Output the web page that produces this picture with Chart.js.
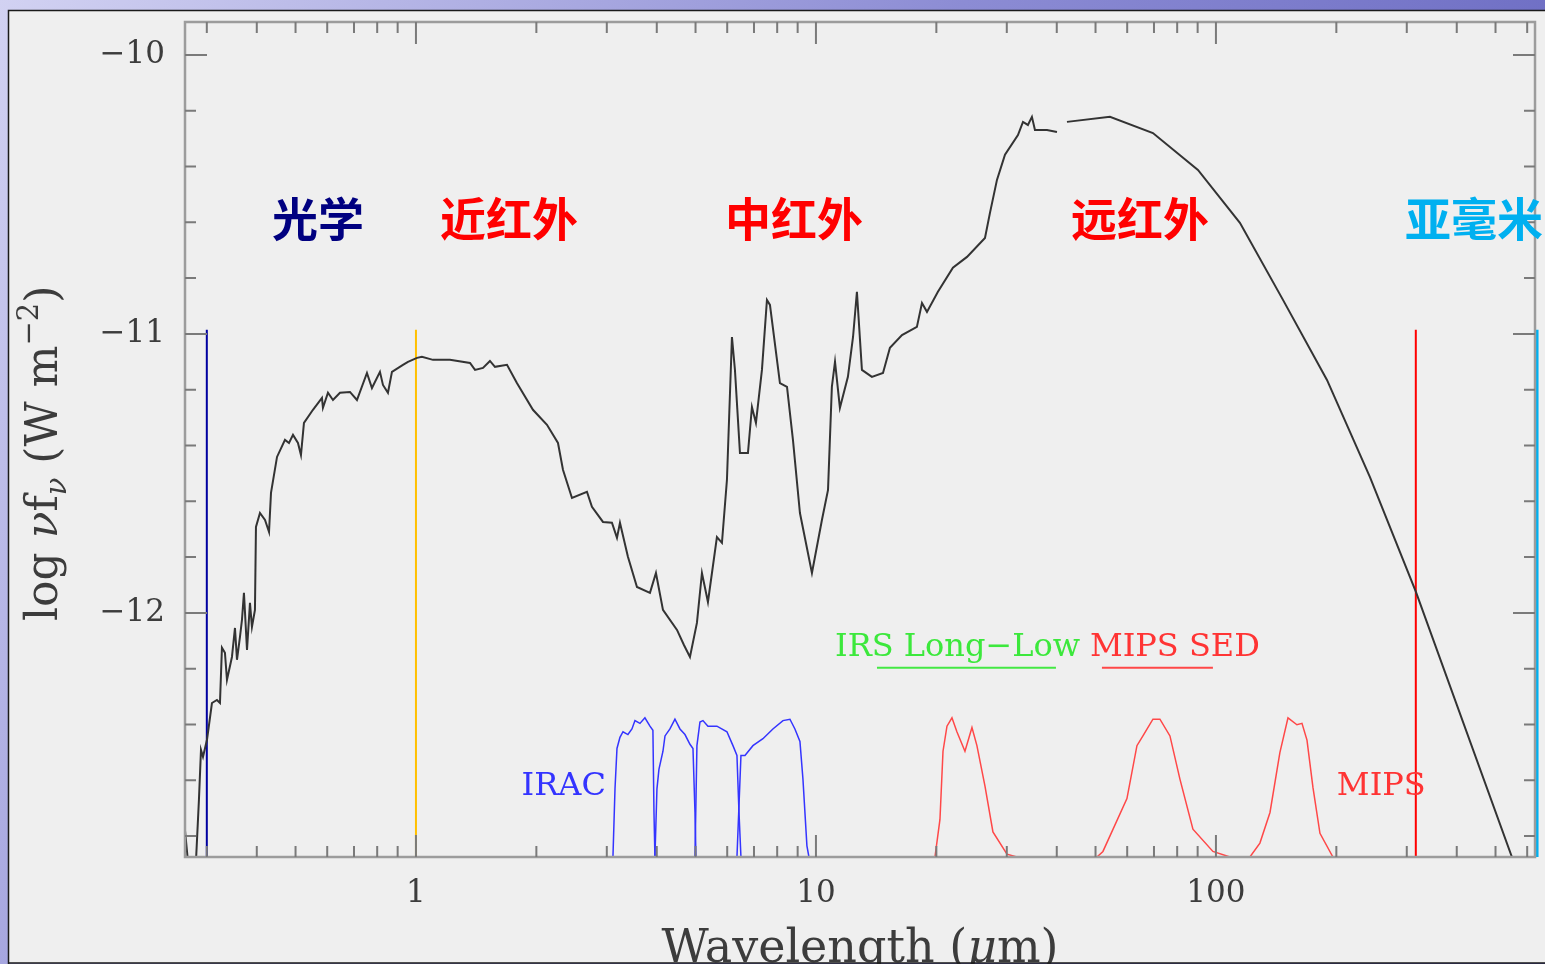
<!DOCTYPE html>
<html>
<head>
<meta charset="utf-8">
<title>SED</title>
<script src="https://cdn.jsdelivr.net/npm/chart.js@4.4.0/dist/chart.umd.min.js"></script>
<style>
html, body { margin: 0; padding: 0; overflow: hidden; background: #8080c8; }
#wrap { position: relative; width: 1545px; height: 964px; }
</style>
</head>
<body>
<div id="wrap"><canvas id="sed" width="1545" height="964"></canvas></div>
<script>
// axis ranges and ticks
const xMin = 0.2646, xMax = 627.6;
const yMin = -12.875, yMax = -9.882;
const xMajor = [1, 10, 100];
const xMinor = [0.3, 0.4, 0.5, 0.6, 0.7, 0.8, 0.9, 2, 3, 4, 5, 6, 7, 8, 9,
                20, 30, 40, 50, 60, 70, 80, 90, 200, 300, 400, 500, 600];
const yMajor = [-12, -11, -10];
const yMinor = [-12.8, -12.6, -12.4, -12.2, -11.8, -11.6, -11.4, -11.2, -10.8, -10.6, -10.4, -10.2];

// SED: wavelength (um) and log nu f_nu (W m^-2)
const sedWave = [
  0.2645, 0.2692, 0.2818, 0.2867, 0.2901, 0.2935, 0.3003, 0.309, 0.318, 0.3236,
  0.3273, 0.333, 0.3369, 0.3467, 0.3528, 0.3569, 0.3631, 0.3673, 0.3715, 0.3781,
  0.3846, 0.389, 0.3958, 0.3981, 0.4074, 0.4194, 0.4292, 0.4341, 0.4494, 0.4705,
  0.4815, 0.4927, 0.507, 0.5158, 0.5248, 0.5527, 0.5821, 0.5854, 0.6026, 0.6202,
  0.6457, 0.6839, 0.712, 0.7542, 0.7762, 0.8128, 0.827, 0.8511, 0.871, 0.9279,
  0.955, 1.006, 1.035, 1.103, 1.216, 1.365, 1.405, 1.471, 1.531, 1.576,
  1.689, 1.788, 1.961, 2.126, 2.265, 2.331, 2.455, 2.676, 2.754, 2.935,
  3.09, 3.181, 3.236, 3.388, 3.569, 3.846, 3.981, 4.145, 4.494, 4.677,
  4.842, 5.04, 5.188, 5.37, 5.655, 5.821, 5.991, 6.166, 6.273, 6.457,
  6.761, 6.918, 7.079, 7.328, 7.542, 7.674, 8.128, 8.465, 8.76, 9.12,
  9.772, 10.35, 10.72, 10.96, 11.16, 11.48, 12.02, 12.38, 12.66, 13.03,
  13.8, 14.71, 15.31, 16.41, 17.88, 18.41, 18.95, 20.18, 22.0, 23.86,
  26.46, 27.23, 28.35, 29.69, 31.99, 32.93, 33.88, 34.67, 35.28, 37.81,
  40.05, 41.2, 42.42, 54.33, 69.58, 90.16, 114.8, 147.1, 189.5, 242.7,
  316.2, 549.5
];
const sedFlux = [
  -12.778, -12.892, -12.892, -12.670, -12.491, -12.516, -12.455, -12.323, -12.312, -12.323,
  -12.125, -12.143, -12.240, -12.158, -12.054, -12.168, -12.086, -12.025, -11.928, -12.133,
  -11.964, -12.050, -11.989, -11.692, -11.642, -11.667, -11.710, -11.570, -11.441, -11.380,
  -11.391, -11.362, -11.391, -11.434, -11.319, -11.272, -11.229, -11.265, -11.211, -11.237,
  -11.211, -11.208, -11.237, -11.140, -11.194, -11.136, -11.183, -11.211, -11.136, -11.111,
  -11.100, -11.086, -11.082, -11.093, -11.093, -11.104, -11.129, -11.122, -11.097, -11.118,
  -11.111, -11.176, -11.272, -11.326, -11.391, -11.487, -11.588, -11.566, -11.620, -11.674,
  -11.677, -11.731, -11.677, -11.799, -11.907, -11.928, -11.857, -11.989, -12.061, -12.115,
  -12.158, -12.036, -11.857, -11.961, -11.728, -11.749, -11.523, -11.011, -11.129, -11.427,
  -11.427, -11.262, -11.319, -11.129, -10.878, -10.896, -11.176, -11.190, -11.380, -11.642,
  -11.857, -11.667, -11.559, -11.190, -11.100, -11.265, -11.154, -11.011, -10.849, -11.129,
  -11.154, -11.140, -11.050, -11.004, -10.975, -10.889, -10.921, -10.849, -10.763, -10.724,
  -10.656, -10.566, -10.448, -10.358, -10.287, -10.240, -10.251, -10.222, -10.269, -10.269,
  -10.276, null, -10.240, -10.222, -10.280, -10.412, -10.602, -10.878, -11.165, -11.513,
  -11.925, -12.875
];

// filter transmission curves (relative, 0..1)
const irac1Wave = [2.884, 3.108, 3.145, 3.181, 3.236, 3.293, 3.388, 3.467, 3.528, 3.631, 3.736, 3.846, 3.912, 3.936, 3.958, 4.074];
const irac1Trans = [0, 0, 0.49, 0.78, 0.86, 0.90, 0.88, 0.92, 0.98, 0.96, 1.0, 0.94, 0.91, 0.32, 0, 0];
const irac2Wave = [3.589, 3.958, 4.004, 4.05, 4.145, 4.194, 4.315, 4.441, 4.571, 4.705, 4.842, 4.927, 4.984, 5.012, 5.278];
const irac2Trans = [0, 0, 0.49, 0.63, 0.76, 0.87, 0.92, 0.99, 0.92, 0.88, 0.81, 0.78, 0.32, 0, 0];
const irac3Wave = [4.571, 4.984, 5.04, 5.129, 5.218, 5.37, 5.655, 5.991, 6.202, 6.346, 6.421, 6.494, 6.839];
const irac3Trans = [0, 0, 0.80, 0.97, 0.98, 0.94, 0.94, 0.90, 0.80, 0.73, 0.32, 0, 0];
const irac4Wave = [5.623, 6.346, 6.494, 6.646, 6.957, 7.37, 7.805, 8.27, 8.61, 8.86, 9.12, 9.279, 9.494, 9.604, 10.23];
const irac4Trans = [0, 0, 0.73, 0.73, 0.80, 0.85, 0.92, 0.98, 0.99, 0.92, 0.83, 0.56, 0.08, 0, 0];
const mips24Wave = [17.99, 19.84, 20.42, 20.78, 21.26, 21.88, 22.51, 23.58, 24.55, 25.26, 26.46, 27.70, 30.03, 31.80];
const mips24Trans = [0, 0, 0.27, 0.76, 0.94, 1.0, 0.90, 0.76, 0.93, 0.80, 0.51, 0.18, 0.02, 0];
const mips70Wave = [50.41, 52.18, 59.91, 63.46, 65.69, 69.58, 72.44, 76.74, 81.28, 87.60, 98.28, 108.4];
const mips70Trans = [0, 0.04, 0.42, 0.80, 0.87, 0.99, 0.99, 0.87, 0.56, 0.20, 0.04, 0];
const mips160Wave = [110.3, 121.6, 128.8, 136.5, 144.5, 151.4, 159.4, 164.1, 168.9, 174.8, 182.0, 196.1];
const mips160Trans = [0, 0, 0.10, 0.32, 0.75, 1.0, 0.95, 0.96, 0.84, 0.50, 0.17, 0];

// spectrograph coverage bars
const irsRange = [14.21, 39.81];
const sedRange = [51.88, 98.28];
const barLevel = 1.36;

// band boundaries
const edgeWave = [0.3, 1.0, 316, 635];
const edgeTop = -10.985;
const edgeColors = ['#0000a0', '#ffc000', '#ff0000', '#00b0f0'];
const edgeWidths = [2, 2, 2, 3];

// band names
const bandNames = ['光学', '近红外', '中红外', '远红外', '亚毫米'];
const bandWave = [0.569, 1.708, 8.81, 64.6, 441.6];
const bandFlux = -10.588;
const bandColors = ['#000080', '#ff0000', '#ff0000', '#ff0000', '#00b0f0'];

// instrument names (baseline positions in transmission units)
const instNames = ['IRAC', 'IRS Long\u2212Low', 'MIPS SED', 'MIPS'];
const instWave = [2.985, 11.16, 48.4, 200.6];
const instLevel = [0.446, 1.446, 1.446, 0.446];
const instAlign = ['right', 'left', 'left', 'left'];
const instColors = ['#3434ff', '#3ce83c', '#ff3434', '#ff3434'];

const serif = "'DejaVu Serif', 'Liberation Serif', serif";
const pts = (xs, ys) => xs.map((x, i) => ({ x: x, y: ys[i] }));

function filterSet(xs, ys, color) {
  return { data: pts(xs, ys), yAxisID: 'yT', borderColor: color, borderWidth: 1.5 };
}

const datasets = [
  filterSet(irac1Wave, irac1Trans, '#3434ff'),
  filterSet(irac2Wave, irac2Trans, '#3434ff'),
  filterSet(irac3Wave, irac3Trans, '#3434ff'),
  filterSet(irac4Wave, irac4Trans, '#3434ff'),
  filterSet(mips24Wave, mips24Trans, '#ff4848'),
  filterSet(mips70Wave, mips70Trans, '#ff4848'),
  filterSet(mips160Wave, mips160Trans, '#ff4848'),
  { data: pts(irsRange, [barLevel, barLevel]), yAxisID: 'yT', borderColor: '#44e844', borderWidth: 2 },
  { data: pts(sedRange, [barLevel, barLevel]), yAxisID: 'yT', borderColor: '#ff4848', borderWidth: 2 },
  { data: pts(sedWave, sedFlux), yAxisID: 'y', borderColor: '#333333', borderWidth: 2 }
];
edgeWave.forEach((w, i) => {
  datasets.push({
    data: pts([w, w], [edgeTop, yMin]), yAxisID: 'y',
    borderColor: edgeColors[i], borderWidth: edgeWidths[i], clip: false
  });
});

const panel = {
  id: 'panel',
  beforeDraw(chart) {
    const c = chart.ctx;
    const g = c.createLinearGradient(0, 0, chart.width, chart.height);
    g.addColorStop(0, '#d2d2f2');
    g.addColorStop(0.45, '#8c8cd4');
    g.addColorStop(1, '#5454b6');
    c.save();
    c.fillStyle = g;
    c.fillRect(0, 0, chart.width, chart.height);
    c.fillStyle = '#efefef';
    c.fillRect(8, 10, chart.width - 8, chart.height - 11);
    c.restore();
  },
  afterDraw(chart) {
    const c = chart.ctx;
    c.save();
    c.strokeStyle = '#1a1a1a';
    c.lineWidth = 1.5;
    c.beginPath();
    c.moveTo(8.5, chart.height);
    c.lineTo(8.5, 10.5);
    c.lineTo(chart.width, 10.5);
    c.moveTo(8.5, 963);
    c.lineTo(chart.width, 963);
    c.stroke();
    c.restore();
  }
};

const frame = {
  id: 'frame',
  afterDatasetsDraw(chart) {
    const c = chart.ctx, a = chart.chartArea;
    const x = chart.scales.x, y = chart.scales.y, t = chart.scales.yT;
    c.save();
    // box
    c.strokeStyle = '#9c9c9c';
    c.lineWidth = 2.5;
    c.strokeRect(a.left, a.top, a.right - a.left, a.bottom - a.top);
    // inward ticks on all sides
    c.strokeStyle = '#7a7a7a';
    c.lineWidth = 2;
    c.beginPath();
    const xt = (v, len) => {
      const p = x.getPixelForValue(v);
      c.moveTo(p, a.bottom); c.lineTo(p, a.bottom - len);
      c.moveTo(p, a.top); c.lineTo(p, a.top + len);
    };
    const yt = (v, len) => {
      const p = y.getPixelForValue(v);
      c.moveTo(a.left, p); c.lineTo(a.left + len, p);
      c.moveTo(a.right, p); c.lineTo(a.right - len, p);
    };
    xMajor.forEach(v => xt(v, 22));
    xMinor.forEach(v => xt(v, 11));
    yMajor.forEach(v => yt(v, 22));
    yMinor.forEach(v => yt(v, 11));
    c.stroke();

    // band names
    c.font = "bold 46px 'Noto Sans CJK SC', sans-serif";
    c.textAlign = 'center';
    c.textBaseline = 'middle';
    bandNames.forEach((s, i) => {
      c.fillStyle = bandColors[i];
      c.fillText(s, x.getPixelForValue(bandWave[i]), y.getPixelForValue(bandFlux));
    });

    // instrument names
    c.font = '32px ' + serif;
    c.textBaseline = 'alphabetic';
    instNames.forEach((s, i) => {
      c.fillStyle = instColors[i];
      c.textAlign = instAlign[i];
      c.fillText(s, x.getPixelForValue(instWave[i]), t.getPixelForValue(instLevel[i]));
    });

    // axis titles
    c.fillStyle = '#3c3c3c';
    c.textAlign = 'left';
    const xParts = [['Wavelength (', 'normal'], ['\u03bc', 'italic'], ['m)', 'normal']];
    let total = 0;
    xParts.forEach(p => { c.font = p[1] + ' 46px ' + serif; total += c.measureText(p[0]).width; });
    let px = (a.left + a.right) / 2 - total / 2;
    xParts.forEach(p => {
      c.font = p[1] + ' 46px ' + serif;
      c.fillText(p[0], px, 962);
      px += c.measureText(p[0]).width;
    });

    c.translate(57, 621);
    c.rotate(-Math.PI / 2);
    const yParts = [['log ', 44, 0, 'normal'], ['\u03bd', 44, 0, 'italic'], ['f', 44, 0, 'normal'],
                    ['\u03bd', 29, 9, 'italic'], [' (W m', 44, 0, 'normal'], ['\u22122', 29, -19, 'normal'],
                    [')', 44, 0, 'normal']];
    let py = 0;
    yParts.forEach(p => {
      c.font = p[3] + ' ' + p[1] + 'px ' + serif;
      c.fillText(p[0], py, p[2]);
      py += c.measureText(p[0]).width;
    });
    c.restore();
  }
};

new Chart(document.getElementById('sed'), {
  type: 'line',
  data: { datasets: datasets },
  options: {
    responsive: false,
    animation: false,
    devicePixelRatio: 1,
    layout: { padding: { left: 0, top: 22, right: 10, bottom: 0 } },
    plugins: { legend: { display: false }, tooltip: { enabled: false } },
    elements: { point: { radius: 0 }, line: { tension: 0 } },
    scales: {
      x: {
        type: 'logarithmic',
        min: xMin, max: xMax,
        grid: { display: false, drawTicks: false },
        border: { display: false },
        afterBuildTicks: s => { s.ticks = xMajor.map(v => ({ value: v })); },
        afterFit: s => { s.height = 107; s.paddingLeft = 0; s.paddingRight = 0; },
        ticks: {
          callback: v => String(v),
          font: { family: serif, size: 31 },
          color: '#3c3c3c',
          padding: 18,
          maxRotation: 0,
          autoSkip: false
        }
      },
      y: {
        type: 'linear',
        min: yMin, max: yMax,
        grid: { display: false, drawTicks: false },
        border: { display: false },
        afterBuildTicks: s => { s.ticks = yMajor.map(v => ({ value: v })); },
        afterFit: s => { s.width = 185; s.paddingTop = 0; s.paddingBottom = 0; },
        ticks: {
          callback: v => '\u2212' + Math.abs(v),
          font: { family: serif, size: 31 },
          color: '#3c3c3c',
          padding: 20
        }
      },
      yT: {
        type: 'linear',
        axis: 'y',
        display: false,
        min: 0, max: 6.0
      }
    }
  },
  plugins: [panel, frame]
});
</script>
</body>
</html>
